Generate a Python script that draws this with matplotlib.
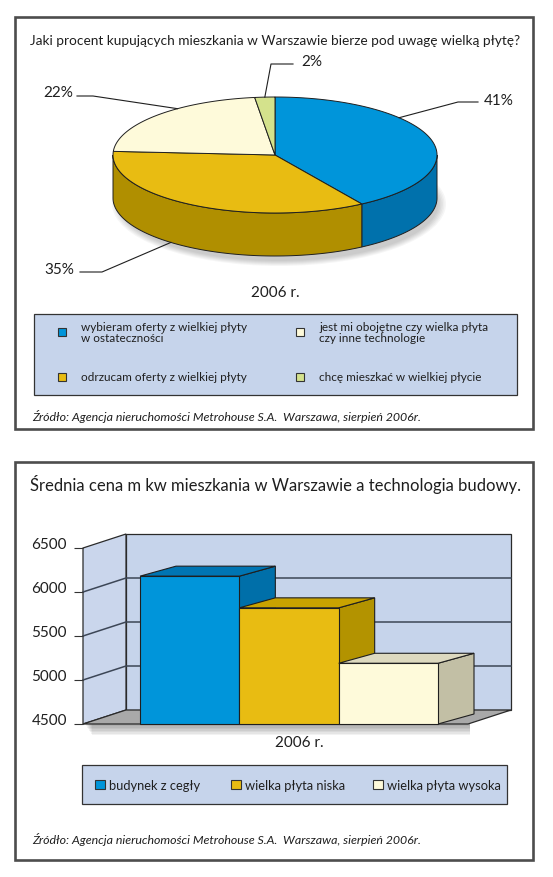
import numpy as np
import matplotlib
matplotlib.use("Agg")
import matplotlib.pyplot as plt
from matplotlib.patches import Polygon, Rectangle, Ellipse

plt.rcParams["font.family"] = ["Lato", "DejaVu Sans"]

W, H = 553, 878

# --- data, top chart (pie) ---
pie_title = "Jaki procent kupujących mieszkania w Warszawie bierze pod uwagę wielką płytę?"
pie_labels = [
    "wybieram oferty z wielkiej płyty\nw ostateczności",
    "odrzucam oferty z wielkiej płyty",
    "jest mi obojętne czy wielka płyta\nczy inne technologie",
    "chcę mieszkać w wielkiej płycie",
]
pie_values = [41, 35, 22, 2]
pie_year = "2006 r."

# --- data, bottom chart (3d bars) ---
bar_title = "Średnia cena m kw mieszkania w Warszawie a technologia budowy."
bar_labels = ["budynek z cegły", "wielka płyta niska", "wielka płyta wysoka"]
bar_values = [6180, 5820, 5190]
bar_ticks = [4500, 5000, 5500, 6000, 6500]
bar_year = "2006 r."

source = "Źródło: Agencja nieruchomości Metrohouse S.A.  Warszawa, sierpień 2006r."

# --- style ---
pie_top = ["#0095DA", "#E8BC12", "#FEFADA", "#D4E28C"]
pie_side = ["#0071AC", "#B08F00", "#C9C5A8", "#A9B56A"]
bar_front = ["#0095DA", "#E8BC12", "#FEFADA"]
bar_side = ["#006FA9", "#B39300", "#C2BFA5"]
bar_top = ["#0075B3", "#C9A300", "#DDD9BF"]
panel_bg = "#C6D4EB"
ink = "#1f1f1f"
frame_col = "#4d4d4d"

fig = plt.figure(figsize=(W / 100, H / 100), dpi=100)
ax = fig.add_axes([0, 0, 1, 1])
ax.set_xlim(0, W)
ax.set_ylim(H, 0)
ax.axis("off")

# frames
for y0, y1 in [(18, 430), (463, 861)]:
    ax.add_patch(Rectangle((15, y0), 518, y1 - y0, fill=False,
                           edgecolor=frame_col, linewidth=1.9, zorder=1))

# ================= top: 3d pie =================
ax.text(275, 41, pie_title, fontsize=9.85, ha="center", va="center", color=ink)

cx, cy, rx, ry, depth = 275, 156, 162, 58, 43


def rim(t, drop=0.0):
    t = np.radians(t)
    return np.column_stack([cx + rx * np.cos(t), cy - ry * np.sin(t) + drop])


# soft shadow under the pie
for k in range(6):
    ax.add_patch(Ellipse((cx + 4, cy + depth + 6), 2 * rx + 10 - 3 * k,
                         2 * ry + 8 - 2 * k, color="#000000", alpha=0.035,
                         lw=0, zorder=2))

fracs = np.array(pie_values, dtype=float) / sum(pie_values)
edges = 90 - 360 * np.concatenate([[0], np.cumsum(fracs)])

for i in range(len(pie_values)):
    a, b = edges[i], edges[i + 1]
    lo, hi = max(b, -180), min(a, 0)
    if lo < hi:
        ts = np.linspace(hi, lo, 80)
        pts = np.vstack([rim(ts), rim(ts[::-1], depth)])
        ax.add_patch(Polygon(pts, closed=True, facecolor=pie_side[i],
                             edgecolor=ink, lw=0.7, zorder=3))

for i in range(len(pie_values)):
    a, b = edges[i], edges[i + 1]
    ts = np.linspace(a, b, 120)
    pts = np.vstack([[cx, cy], rim(ts)])
    ax.add_patch(Polygon(pts, closed=True, facecolor=pie_top[i],
                         edgecolor=ink, lw=0.7, zorder=4))

# percentage labels with leader lines
# (anchor angle, on lower rim, knee, line end, text pos, ha)
leaders = [
    (40, False, (458, 103), (478, 103), (484, 101), "left"),
    (230, True, (102, 273), (80, 273), (74, 270), "right"),
    (127, False, (93, 97), (77, 97), (73, 93), "right"),
    (93.6, False, (271, 65), (293, 65), (301, 62), "left"),
]
for val, (ang, low, knee, end, txy, ha) in zip(pie_values, leaders):
    p = rim([ang], depth if low else 0)[0]
    ax.plot([p[0], knee[0], end[0]], [p[1], knee[1], end[1]],
            color=ink, lw=0.8, zorder=5)
    ax.text(txy[0], txy[1], f"{val}%", fontsize=11, ha=ha, va="center",
            color=ink)

ax.text(275, 293, pie_year, fontsize=11, ha="center", va="center", color=ink)

# legend
ax.add_patch(Rectangle((34, 315), 483, 81, facecolor=panel_bg,
                       edgecolor="#333333", lw=0.9, zorder=2))
leg_pos = [(58, 333), (58, 378), (296, 333), (296, 378)]
for (lx, ly), lab, col in zip(leg_pos, pie_labels, pie_top):
    ax.add_patch(Rectangle((lx, ly - 4), 8, 8, facecolor=col,
                           edgecolor="#333333", lw=0.8, zorder=3))
    ax.text(lx + 23, ly, lab, fontsize=8.5, ha="left", va="center",
            color=ink, linespacing=0.9)

ax.text(32, 417, source, fontsize=8.9, style="italic", ha="left",
        va="center", color=ink)

# ================= bottom: 3d bars =================
ax.text(275, 485, bar_title, fontsize=12, ha="center", va="center",
        color=ink)

bx = fig.add_axes([83 / W, 1 - 725 / H, 385 / W, 176 / H])
x0, x1 = -1.074, 2.802
bx.set_xlim(x0, x1)
bx.set_ylim(bar_ticks[0], bar_ticks[-1])
for s in bx.spines.values():
    s.set_visible(False)
bx.patch.set_visible(False)
bx.set_xticks([])
bx.set_yticks(bar_ticks)
bx.tick_params(axis="y", length=6.5, width=0.8, color="#333333", pad=5,
               labelsize=11, labelcolor=ink)
for lab in bx.get_yticklabels():
    lab.set_verticalalignment("baseline")

ppx = 298 / 3.0                       # pixels per category unit
ppy = 176 / (bar_ticks[-1] - bar_ticks[0])  # pixels per value unit
dxw, dyw = 43 / ppx, 14 / ppy          # wall depth
dxb, dyb = 36 / ppx, 10 / ppy          # bar depth
ymin, ymax = bar_ticks[0], bar_ticks[-1]
wall_edge = "#2a2a2a"

back = Rectangle((x0 + dxw, ymin + dyw), x1 - x0, ymax - ymin,
                 facecolor=panel_bg, edgecolor=wall_edge, lw=0.9,
                 clip_on=False, zorder=1)
bx.add_patch(back)
left = Polygon([(x0, ymin), (x0, ymax), (x0 + dxw, ymax + dyw),
                (x0 + dxw, ymin + dyw)], closed=True, facecolor="#CAD6EC",
               edgecolor=wall_edge, lw=0.9, clip_on=False, zorder=1)
bx.add_patch(left)
floor = Polygon([(x0, ymin), (x1, ymin), (x1 + dxw, ymin + dyw),
                 (x0 + dxw, ymin + dyw)], closed=True, facecolor="#A9A9A9",
                edgecolor=wall_edge, lw=0.9, clip_on=False, zorder=1.5)
bx.add_patch(floor)
for t in bar_ticks[1:-1]:
    bx.plot([x0, x0 + dxw, x1 + dxw], [t, t + dyw, t + dyw],
            color="#3c4656", lw=1.1, clip_on=False, zorder=1.2)

# floor shadow
for k in range(7):
    ax.add_patch(Rectangle((86 + k, 725), 384 - k, 2 + 1.5 * k,
                           color="#000000", alpha=0.05, lw=0, zorder=2))

for i, v in enumerate(bar_values):
    xl, xr = i - 0.5, i + 0.5
    z = 3 + i
    bx.bar(i, v - ymin, bottom=ymin, width=1.0, color=bar_front[i],
           edgecolor=ink, lw=0.8, zorder=z + 0.2, clip_on=False)
    bx.add_patch(Polygon([(xr, ymin), (xr + dxb, ymin + dyb),
                          (xr + dxb, v + dyb), (xr, v)], closed=True,
                         facecolor=bar_side[i], edgecolor=ink, lw=0.8,
                         clip_on=False, zorder=z))
    bx.add_patch(Polygon([(xl, v), (xr, v), (xr + dxb, v + dyb),
                          (xl + dxb, v + dyb)], closed=True,
                         facecolor=bar_top[i], edgecolor=ink, lw=0.8,
                         clip_on=False, zorder=z))

ax.text(299, 743, bar_year, fontsize=11, ha="center", va="center", color=ink)

# legend
ax.add_patch(Rectangle((82, 766), 425, 39, facecolor=panel_bg,
                       edgecolor="#333333", lw=0.9, zorder=2))
for lx, lab, col in zip([95, 231, 373], bar_labels, bar_front):
    ax.add_patch(Rectangle((lx, 781), 9.5, 9.5, facecolor=col,
                           edgecolor="#333333", lw=0.8, zorder=3))
    ax.text(lx + 14, 786, lab, fontsize=9.3, ha="left", va="center",
            color=ink)

ax.text(32, 840, source, fontsize=8.9, style="italic", ha="left",
        va="center", color=ink)

fig.savefig("out.png", dpi=100)
